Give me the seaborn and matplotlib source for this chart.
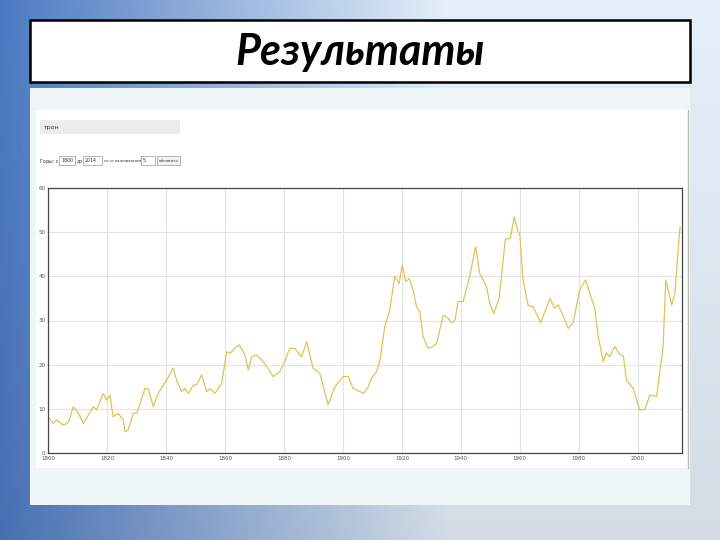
import numpy as np
import matplotlib.pyplot as plt
from matplotlib.patches import Rectangle
import seaborn as sns

# word frequency curve (year, value)
years = [1800.0, 1801.8, 1802.9, 1805.2, 1806.9, 1808.6, 1810.3, 1812.0, 1813.7, 1815.4,
         1816.5, 1818.7, 1819.9, 1821.0, 1822.1, 1823.8, 1825.5, 1826.1, 1827.2, 1828.9,
         1830.1, 1832.9, 1834.0, 1835.7, 1837.4, 1840.2, 1842.5, 1843.6, 1845.3, 1846.4,
         1847.6, 1849.3, 1850.4, 1852.1, 1853.8, 1854.9, 1856.6, 1858.9, 1860.6, 1861.7,
         1863.4, 1864.8, 1866.8, 1867.9, 1869.1, 1870.7, 1873.0, 1876.4, 1878.6, 1880.3,
         1882.0, 1883.7, 1886.0, 1887.7, 1889.9, 1892.2, 1895.0, 1897.3, 1900.1, 1901.8,
         1903.5, 1905.8, 1907.0, 1908.6, 1909.7, 1911.4, 1912.5, 1914.2, 1915.9, 1917.6,
         1919.1, 1920.1, 1921.3, 1922.5, 1923.8, 1925.0, 1926.1, 1927.2, 1928.9, 1930.6,
         1931.8, 1934.0, 1935.7, 1936.8, 1938.0, 1939.1, 1940.8, 1943.1, 1945.0, 1946.4,
         1948.7, 1949.8, 1951.2, 1953.0, 1955.1, 1956.8, 1958.1, 1959.4, 1960.0, 1961.1,
         1962.8, 1964.5, 1967.1, 1970.2, 1971.8, 1973.0, 1974.1, 1976.4, 1978.1, 1980.3,
         1982.3, 1983.7, 1985.4, 1986.6, 1988.3, 1989.4, 1990.5, 1992.2, 1993.9, 1995.1,
         1996.2, 1998.5, 2000.7, 2002.4, 2004.1, 2006.4, 2008.6, 2009.5, 2011.5, 2012.6,
         2014.3]
values = [8.2, 6.7, 7.5, 6.3, 6.9, 10.5, 9.0, 6.7, 8.6, 10.5,
          9.7, 13.5, 12.0, 13.1, 8.2, 9.0, 7.5, 4.8, 5.2, 9.0,
          9.0, 14.6, 14.6, 10.5, 13.5, 16.5, 19.2, 16.5, 13.9, 14.6,
          13.5, 15.4, 15.4, 17.7, 13.9, 14.6, 13.5, 15.8, 22.9, 22.6,
          23.7, 24.5, 22.2, 18.8, 21.8, 22.2, 20.7, 17.3, 18.4, 20.7,
          23.7, 23.7, 21.8, 25.2, 19.2, 18.0, 10.9, 15.0, 17.3, 17.3,
          14.6, 13.9, 13.5, 15.0, 16.9, 18.4, 20.7, 28.6, 32.4, 39.9,
          38.4, 42.6, 38.8, 39.5, 36.9, 33.1, 32.0, 26.3, 23.7, 24.1,
          24.8, 31.2, 30.5, 29.5, 30.1, 34.3, 34.3, 40.3, 46.7, 40.7,
          37.7, 33.9, 31.6, 35.0, 48.4, 48.6, 53.5, 50.1, 49.4, 39.2,
          33.5, 33.1, 29.5, 35.0, 32.8, 33.5, 32.0, 28.2, 29.5, 36.9,
          39.2, 36.2, 32.8, 26.3, 20.7, 22.7, 21.8, 24.1, 22.2, 22.0,
          16.5, 14.6, 9.7, 9.9, 13.1, 12.8, 24.1, 39.2, 33.5, 36.2,
          51.2]

x_ticks = [1800, 1820, 1840, 1860, 1880, 1900, 1920, 1940, 1960, 1980, 2000]
y_ticks = [0, 10, 20, 30, 40, 50, 60]

sns.set_theme(style="whitegrid")
plt.rcParams['font.family'] = ['DejaVu Sans']

W, H = 720, 540
fig = plt.figure(figsize=(7.2, 5.4), dpi=100)

def box(x0, y0, x1, y1):
    # pixel box (top-left origin) -> figure fraction rect
    return (x0 / W, 1 - y1 / H), (x1 - x0) / W, (y1 - y0) / H

# slide background
bg = fig.add_axes([0, 0, 1, 1])
bg.axis("off")
gx = np.linspace(0, 1, 200)
gy = np.linspace(0, 1, 150)
X, Y = np.meshgrid(gx, gy)
left = np.array([0.30, 0.48, 0.76])
right = np.array([0.90, 0.94, 0.98])
t = np.clip(X * 1.6, 0, 1)[..., None]
img = left * (1 - t) + right * t
img = img * (0.92 + 0.08 * Y[..., None])
bg.imshow(img, extent=[0, 1, 0, 1], aspect="auto", origin="lower")
bg.set_xlim(0, 1)
bg.set_ylim(0, 1)

# content panel and screenshot
xy, w, h = box(30, 88, 690, 505)
bg.add_patch(Rectangle(xy, w, h, facecolor="#eef6f8", edgecolor="none"))
xy, w, h = box(36, 110, 690, 468)
bg.add_patch(Rectangle(xy, w, h, facecolor="white", edgecolor="none"))
bg.plot([688 / W, 688 / W], [1 - 468 / H, 1 - 110 / H], color="#b8b8b8", lw=1)

# title box
xy, w, h = box(30, 20, 690, 82)
bg.add_patch(Rectangle(xy, w, h, facecolor="white", edgecolor="black", lw=1.8))
bg.text(360 / W, 1 - 52 / H, "Результаты", ha="center", va="center",
        fontsize=31, fontweight="bold", fontstyle="italic", family="Lato", color="black")

# query bar
xy, w, h = box(40, 120, 180, 134)
bg.add_patch(Rectangle(xy, w, h, facecolor="#ececec", edgecolor="none"))
bg.text(44 / W, 1 - 127 / H, "трон", fontsize=4.5, va="center", color="#333333")

# form row
fy = 1 - 160.5 / H
bg.text(40 / W, fy, "Годы: с", fontsize=3.4, va="center", color="#333333")
for x0, x1, s in [(59, 75, "1800"), (83, 102, "2014"), (141, 155, "5")]:
    xy, w, h = box(x0, 156, x1, 165)
    bg.add_patch(Rectangle(xy, w, h, facecolor="white", edgecolor="#999999", lw=0.5))
    bg.text((x0 + 2) / W, fy, s, fontsize=3.4, va="center", color="#333333")
bg.text(77 / W, fy, "до", fontsize=3.4, va="center", color="#333333")
bg.text(104 / W, fy, "со сглаживанием", fontsize=2.9, va="center", color="#333333")
xy, w, h = box(157, 156, 180, 165)
bg.add_patch(Rectangle(xy, w, h, facecolor="#f2f2f2", edgecolor="#999999", lw=0.5))
bg.text(168.5 / W, fy, "обновить", fontsize=2.9, ha="center", va="center", color="#333333")

# the chart itself
ax = fig.add_axes([48 / W, 1 - 453 / H, 634 / W, 265 / H])
ax.set_facecolor("white")
sns.lineplot(x=years, y=values, ax=ax, color="#e4c057", lw=0.9)
ax.set_xlim(1800, 2015)
ax.set_ylim(0, 60)
ax.set_xticks(x_ticks)
ax.set_yticks(y_ticks)
ax.grid(True, color="#e4e4e4", lw=0.8)
ax.tick_params(axis="both", labelsize=4, colors="#555555", length=0, pad=2)
for s in ax.spines.values():
    s.set_color("#444444")
    s.set_linewidth(0.9)
ax.set_xlabel("")
ax.set_ylabel("")

fig.savefig("out.png", dpi=100)
